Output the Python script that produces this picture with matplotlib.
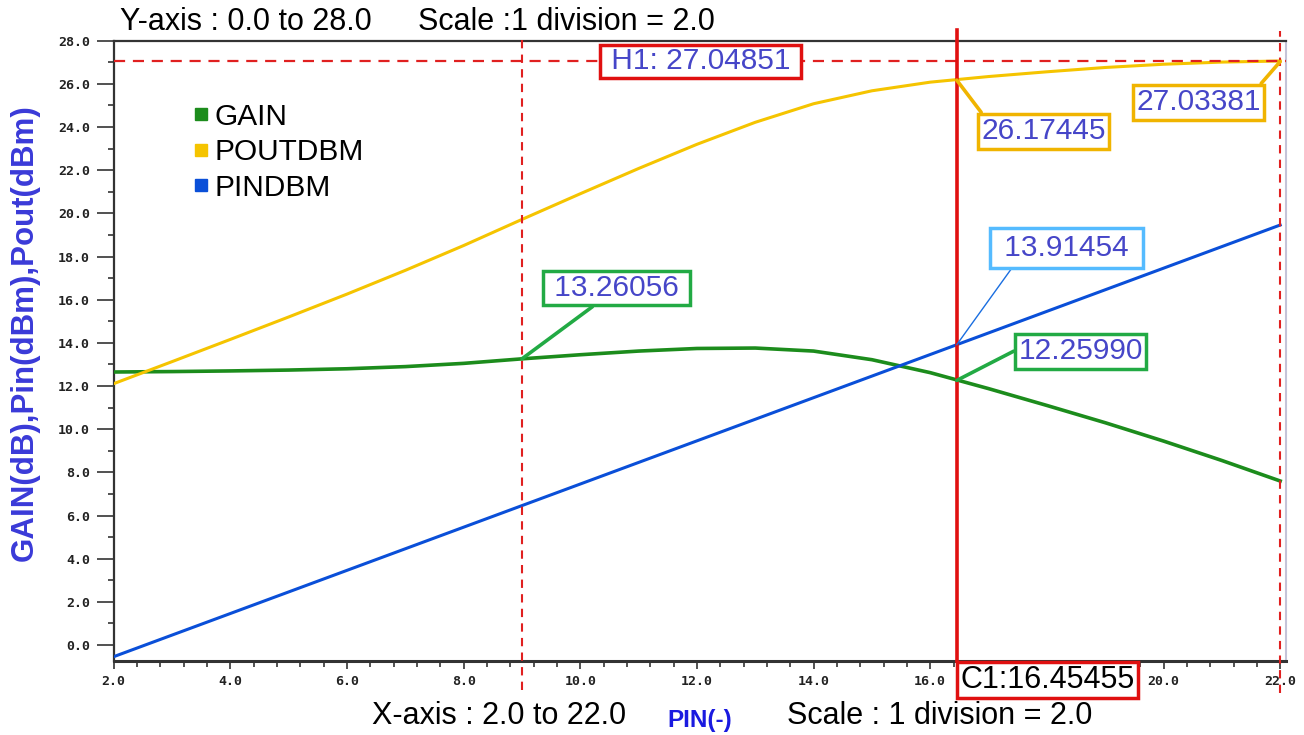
import matplotlib
matplotlib.use("Agg")
import matplotlib.pyplot as plt
from matplotlib.lines import Line2D
from matplotlib.ticker import MultipleLocator, FuncFormatter, FormatStrFormatter

# swept input power (x axis)
pin_sweep = [2, 3, 4, 5, 6, 7, 8, 9, 10, 11, 12, 13, 14, 15, 16, 17, 18, 19, 20, 21, 22]
gain_db = [12.65, 12.67, 12.70, 12.74, 12.80, 12.90, 13.05, 13.26, 13.45, 13.62, 13.74,
           13.76, 13.62, 13.22, 12.62, 11.88, 11.10, 10.30, 9.45, 8.55, 7.60]
pin_dbm = [-0.54, 0.46, 1.46, 2.46, 3.46, 4.46, 5.46, 6.46, 7.46, 8.46, 9.46,
           10.46, 11.46, 12.46, 13.46, 14.46, 15.46, 16.46, 17.46, 18.46, 19.46]
pout_dbm = [12.11, 13.13, 14.16, 15.20, 16.26, 17.36, 18.51, 19.72, 20.91, 22.08, 23.20,
            24.22, 25.08, 25.68, 26.08, 26.34, 26.56, 26.76, 26.91, 27.01, 27.06]

series_names = ["GAIN", "POUTDBM", "PINDBM"]
series_colors = ["#1c8c1c", "#f5c400", "#0a4fd8"]

# cursors / markers
h1_value = 27.04851
c1_value = 16.45455
m1_value = 9.0
end_value = 22.0
hidden_xtick = 18.0   # covered by the C1 readout box

val_color = "#4646c8"
label_font = "Liberation Sans"

fig = plt.figure(figsize=(13.04, 7.35), dpi=100)
fig.patch.set_facecolor("white")
ax = fig.add_axes([0.0872, 0.1007, 0.899, 0.8439])

ax.plot(pin_sweep, gain_db, color=series_colors[0], lw=2.6, zorder=3)
ax.plot(pin_sweep, pout_dbm, color=series_colors[1], lw=2.2, zorder=3)
ax.plot(pin_sweep, pin_dbm, color=series_colors[2], lw=2.2, zorder=3)

ax.set_xlim(2.0, 22.1)
ax.set_ylim(-0.74, 28.0)

# axes styling
ax.xaxis.set_major_locator(MultipleLocator(2.0))
ax.xaxis.set_minor_locator(MultipleLocator(0.4))
ax.yaxis.set_major_locator(MultipleLocator(2.0))
ax.yaxis.set_minor_locator(MultipleLocator(1.0))
ax.xaxis.set_major_formatter(FuncFormatter(
    lambda v, p: "" if abs(v - hidden_xtick) < 1e-6 else "%.1f" % v))
ax.yaxis.set_major_formatter(FormatStrFormatter("%.1f"))
ax.tick_params(axis="y", which="major", length=12, width=1.2, pad=5, colors="#333333")
ax.tick_params(axis="y", which="minor", length=4.5, width=1.2, colors="#333333")
ax.tick_params(axis="x", which="major", length=6, width=1.2, pad=4, colors="#333333")
ax.tick_params(axis="x", which="minor", length=4, width=1.2, colors="#333333")
for lab in ax.get_xticklabels() + ax.get_yticklabels():
    lab.set_fontfamily("DejaVu Sans Mono")
    lab.set_fontweight("bold")
    lab.set_fontsize(9.5)
    lab.set_color("#222222")

for side in ["left", "top", "bottom"]:
    ax.spines[side].set_color("#333333")
    ax.spines[side].set_linewidth(1.6)
ax.spines["bottom"].set_linewidth(2.2)
ax.spines["right"].set_color("#c4c4d8")
ax.spines["right"].set_linewidth(1.5)

# cursor lines
ax.axhline(h1_value, color="#e02020", lw=1.6, ls=(0, (5, 3.5)), zorder=4)
ax.axvline(m1_value, ymin=-0.047, ymax=1.005, color="#e02020", lw=1.5,
           ls=(0, (4, 3)), clip_on=False, zorder=4)
ax.axvline(end_value, ymin=-0.052, ymax=1.015, color="#e02020", lw=1.5,
           ls=(0, (4, 3)), clip_on=False, zorder=4)
ax.axvline(c1_value, ymin=0.0, ymax=1.018, color="#e01010", lw=2.6,
           clip_on=False, zorder=4)

# value boxes with leader lines
annots = [
    # text, point, text position, edge colour, leader colour, leader width, relpos, pad
    (" 13.26056 ", (m1_value, 13.26056), (10.62, 16.52), "#22aa44", "#22aa44", 2.6, (0.37, 0.0), 0.1),
    ("26.17445", (c1_value, 26.17445), (17.94, 23.81), "#f0b400", "#f0b400", 2.6, (0.03, 1.0), 0.12),
    ("27.03381", (end_value, 27.03381), (20.60, 25.15), "#f0b400", "#f0b400", 2.6, (0.97, 1.0), 0.12),
    (" 13.91454 ", (c1_value, 13.91454), (18.34, 18.38), "#55bbff", "#1a6ee0", 1.0, (0.14, 0.0), 0.2),
    ("12.25990", (c1_value, 12.25990), (18.58, 13.60), "#22aa44", "#22aa44", 2.6, (0.0, 0.6), 0.12),
]
for txt, pt, pos, ec, lc, lw, rel, pad in annots:
    ax.annotate(txt, xy=pt, xytext=pos, ha="center", va="center",
                fontsize=21.5, family=label_font, color=val_color,
                bbox=dict(boxstyle="square,pad=%s" % pad, fc="white", ec=ec, lw=2.5),
                arrowprops=dict(arrowstyle="-", color=lc, lw=lw, relpos=rel,
                                shrinkA=0, shrinkB=0),
                zorder=6)

ax.text(12.06, h1_value, " H1: 27.04851 ", ha="center", va="center", fontsize=21.5,
        family=label_font, color=val_color, zorder=6,
        bbox=dict(boxstyle="square,pad=0.08", fc="white", ec="#e01010", lw=2.5))
ax.text(18.01, -1.62, "C1:16.45455", ha="center", va="center", fontsize=22,
        family=label_font, color="black", zorder=6, clip_on=False,
        bbox=dict(boxstyle="square,pad=0.1", fc="white", ec="#e01010", lw=2.5))

# legend
handles = [Line2D([], [], ls="none", marker="s", markersize=8, markerfacecolor=c,
                  markeredgecolor=c) for c in series_colors]
ax.legend(handles, series_names, loc="upper left", bbox_to_anchor=(0.068, 0.900),
          frameon=False, prop={"family": label_font, "size": 21.5},
          handlelength=0.5, handletextpad=0.2, labelspacing=0.25,
          borderpad=0, borderaxespad=0)

# surrounding captions
fig.text(120 / 1304, 1 - 22 / 735, "Y-axis : 0.0 to 28.0", fontsize=22,
         family=label_font, va="center", ha="left")
fig.text(418 / 1304, 1 - 22 / 735, "Scale :1 division = 2.0", fontsize=22,
         family=label_font, va="center", ha="left")
fig.text(372 / 1304, 1 - 716 / 735, "X-axis : 2.0 to 22.0", fontsize=22,
         family=label_font, va="center", ha="left")
fig.text(700 / 1304, 1 - 720 / 735, "PIN(-)", fontsize=17.5, fontweight="bold",
         family=label_font, color="#1a1ae0", va="center", ha="center")
fig.text(787 / 1304, 1 - 716 / 735, "Scale : 1 division = 2.0", fontsize=22,
         family=label_font, va="center", ha="left")
fig.text(25 / 1304, 1 - 333 / 735, "GAIN(dB),Pin(dBm),Pout(dBm)", fontsize=22.5,
         fontweight="bold", family=label_font, color="#3a3ad8", rotation=90,
         va="center", ha="center")

fig.savefig("out.png", dpi=100, facecolor="white")
